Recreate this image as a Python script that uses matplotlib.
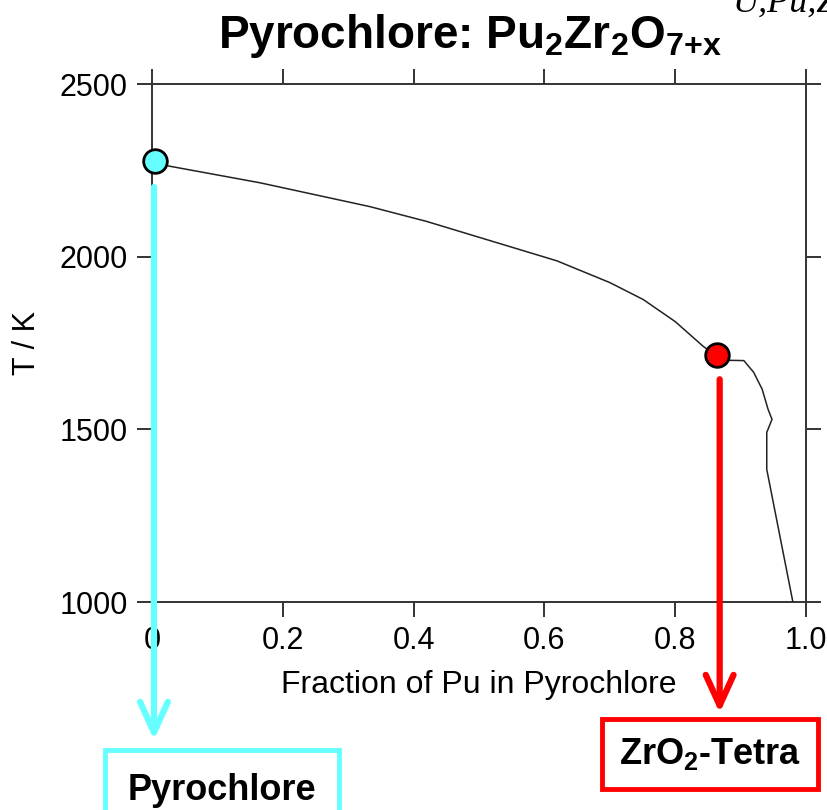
import matplotlib
matplotlib.use("Agg")
import matplotlib.pyplot as plt

plt.rcParams["font.family"] = ["Liberation Sans", "DejaVu Sans"]
plt.rcParams["mathtext.fontset"] = "custom"
plt.rcParams["mathtext.rm"] = "Liberation Sans"
plt.rcParams["mathtext.bf"] = "Liberation Sans:bold"

# phase boundary
frac_pu = [0.005, 0.024, 0.165, 0.333, 0.420, 0.502, 0.619, 0.700, 0.751, 0.800,
           0.843, 0.864, 0.880, 0.905, 0.920, 0.933, 0.942, 0.948, 0.940, 0.940,
           0.979, 0.980]
temp_k = [2277, 2263, 2214, 2145, 2102, 2055, 1988, 1925, 1876, 1812,
          1740, 1712, 1700, 1699, 1665, 1616, 1558, 1529, 1491, 1384,
          1009, 1000]

# marked points
pyro_pt = (0.005, 2277)
tetra_pt = (0.864, 1714)

# arrow start points (x, T)
pyro_arrow = (0.003, 2202)
tetra_arrow = (0.868, 1645)

xticks = [0, 0.2, 0.4, 0.6, 0.8, 1.0]
xticklabels = ["0", "0.2", "0.4", "0.6", "0.8", "1.0"]
yticks = [1000, 1500, 2000, 2500]

cyan = "#66FFFF"
red = "#FF0000"

fig = plt.figure(figsize=(8.27, 8.10), dpi=100)
ax = fig.add_axes([152 / 827, 1 - 602 / 810, 654 / 827, 518 / 810])

ax.plot(frac_pu, temp_k, color="#222222", lw=1.1, zorder=3)
ax.plot(*pyro_pt, "o", ms=17, mfc=cyan, mec="black", mew=2, zorder=5, clip_on=False)
ax.plot(*tetra_pt, "o", ms=17, mfc=red, mec="black", mew=2, zorder=5, clip_on=False)

ax.set_xlim(0, 1.0)
ax.set_ylim(1000, 2500)
ax.set_xticks(xticks)
ax.set_xticklabels(xticklabels)
ax.set_yticks(yticks)
ax.tick_params(direction="out", length=10.5, width=1.4, color="#333333",
               labelsize=22, top=True, right=True, pad=7)
for s in ax.spines.values():
    s.set_color("#333333")
    s.set_linewidth(1.4)

ax.set_xlabel("Fraction of Pu in Pyrochlore", fontsize=23, labelpad=10)
ax.set_ylabel("T / K", fontsize=22)
ax.yaxis.set_label_coords(-0.168, 0.5)

fig.text(0.568, 0.955, r"Pyrochlore: Pu$_\mathbf{2}$Zr$_\mathbf{2}$O$_\mathbf{7{+}x}$",
         fontsize=33, fontweight="bold", ha="center", va="center")
fig.text(0.886, 0.985, "U,Pu,Zr", family="Liberation Serif", style="italic",
         fontsize=26, ha="left", va="baseline")

# arrows down to the phase labels
arrow_style = "->,head_length=2.2,head_width=1.0"
ax.annotate("", xy=(pyro_arrow[0], 1 - 740 / 810), xycoords=("data", "figure fraction"),
            xytext=pyro_arrow, textcoords="data",
            arrowprops=dict(arrowstyle=arrow_style, color=cyan, lw=4.5,
                            shrinkA=0, shrinkB=0),
            annotation_clip=False)
ax.annotate("", xy=(tetra_arrow[0], 1 - 713 / 810), xycoords=("data", "figure fraction"),
            xytext=tetra_arrow, textcoords="data",
            arrowprops=dict(arrowstyle=arrow_style, color=red, lw=4.5,
                            shrinkA=0, shrinkB=0),
            annotation_clip=False)

fig.text(222 / 827, 1 - 790 / 810, "Pyrochlore", fontsize=26, fontweight="bold",
         ha="center", va="center",
         bbox=dict(boxstyle="square,pad=0.62", fc="white", ec=cyan, lw=3.5))
fig.text(710 / 827, 1 - 754 / 810, r"ZrO$_\mathbf{2}$-Tetra", fontsize=26, fontweight="bold",
         ha="center", va="center",
         bbox=dict(boxstyle="square,pad=0.47", fc="white", ec=red, lw=3.5))

fig.savefig("out.png", dpi=100)
